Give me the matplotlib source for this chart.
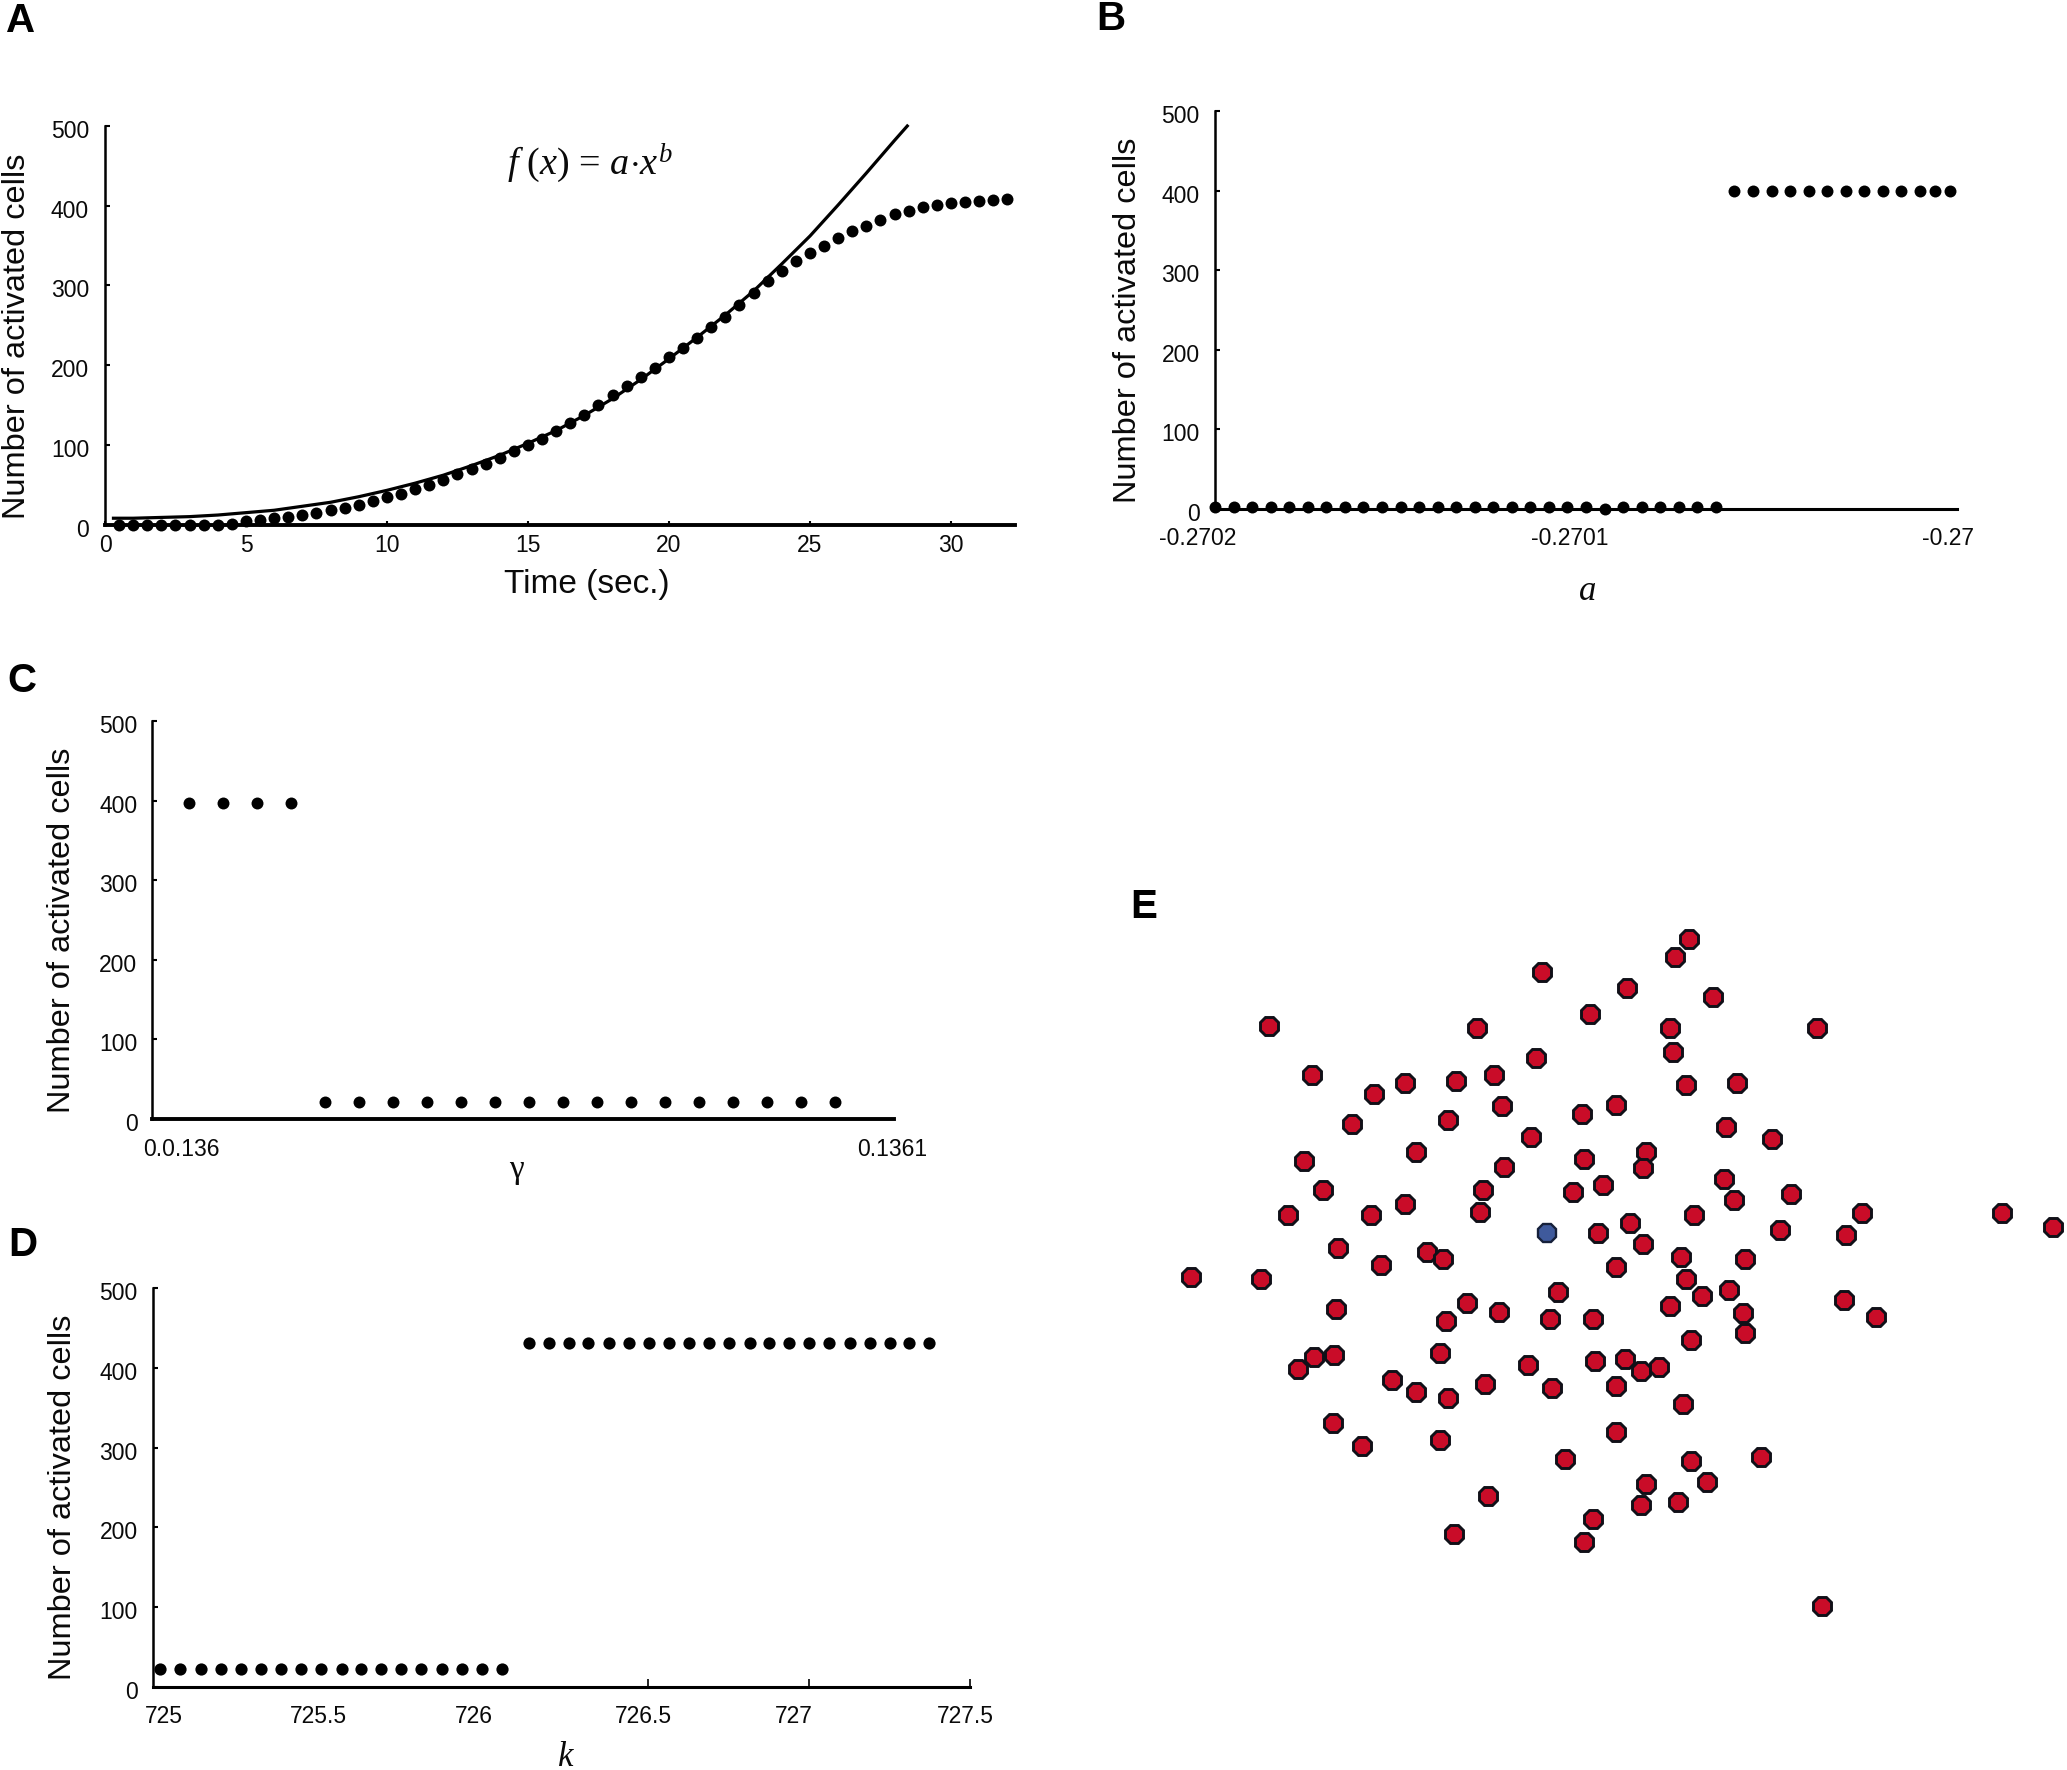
import matplotlib
matplotlib.use("Agg")
import matplotlib.pyplot as plt
from matplotlib.transforms import ScaledTranslation

plt.rcParams['font.family'] = ['Liberation Sans', 'DejaVu Sans']
plt.rcParams['mathtext.fontset'] = 'custom'
plt.rcParams['mathtext.rm'] = 'Liberation Serif'
plt.rcParams['mathtext.it'] = 'Liberation Serif:italic'

W, H = 2067, 1770

# Panel A
time_s = [0.5, 1, 1.5, 2, 2.5, 3, 3.5, 4, 4.5, 5, 5.5, 6, 6.5, 7, 7.5, 8, 8.5, 9, 9.5, 10,
          10.5, 11, 11.5, 12, 12.5, 13, 13.5, 14, 14.5, 15, 15.5, 16, 16.5, 17, 17.5, 18,
          18.5, 19, 19.5, 20, 20.5, 21, 21.5, 22, 22.5, 23, 23.5, 24, 24.5, 25, 25.5, 26,
          26.5, 27, 27.5, 28, 28.5, 29, 29.5, 30, 30.5, 31, 31.5, 32]
activated = [0, 0, 0, 0, 0, 0, 0, 0, 1, 4, 6, 8, 10, 12, 15, 18, 21, 25, 29, 34,
             39, 45, 50, 56, 63, 70, 76, 84, 92, 100, 108, 117, 128, 138, 150, 162,
             174, 185, 196, 210, 222, 234, 248, 261, 275, 290, 305, 318, 331, 341, 350, 359,
             368, 375, 382, 390, 394, 398, 401, 403, 405, 406, 407, 408]
fit_x = [0.3, 1, 2, 3, 4, 5, 6, 7, 8, 9, 10, 11, 12, 13, 14, 15, 16, 17, 18, 19, 20, 21, 22, 23, 24, 25, 26, 27, 28, 28.45]
fit_y = [8, 8, 9, 10, 12, 15, 18, 23, 28, 35, 43, 52, 62, 74, 87, 102, 118, 137, 158, 182, 208, 235, 263, 293, 327, 362, 401, 441, 482, 500]
a_xticks = [0, 5, 10, 15, 20, 25, 30]

# Panel B
a_low = [-0.2702, -0.270195, -0.27019, -0.270185, -0.27018, -0.270175, -0.27017, -0.270165,
         -0.27016, -0.270155, -0.27015, -0.270145, -0.27014, -0.270135, -0.27013, -0.270125,
         -0.27012, -0.270115, -0.27011, -0.270105, -0.2701, -0.270095, -0.27009, -0.270085,
         -0.27008, -0.270075, -0.27007, -0.270065]
n_low = [2, 2, 2, 2, 2, 2, 2, 2, 2, 2, 2, 2, 2, 2, 2, 2, 2, 2, 2, 2, 2, 0, 2, 2, 2, 2, 2, 2]
a_high = [-0.27006, -0.270055, -0.27005, -0.270045, -0.27004, -0.270035, -0.27003, -0.270025,
          -0.27002, -0.270015, -0.27001, -0.270006, -0.270002]
n_high = [400] * 13

# Panel C
gamma_high = [0.136, 0.136005, 0.13601, 0.136015]
n_gamma_high = [397, 397, 397, 397]
gamma_low = [0.13602, 0.136025, 0.13603, 0.136035, 0.13604, 0.136045, 0.13605, 0.136055,
             0.13606, 0.136065, 0.13607, 0.136075, 0.13608, 0.136085, 0.13609, 0.136095]
n_gamma_low = [21] * 16

# Panel D
k_low = [724.985, 725.046, 725.110, 725.172, 725.234, 725.298, 725.360, 725.422, 725.484,
         725.548, 725.609, 725.671, 725.733, 725.795, 725.859, 725.921, 725.985, 726.046]
n_k_low = [22] * 18
k_high = [726.129, 726.191, 726.253, 726.314, 726.378, 726.440, 726.502, 726.566, 726.628,
          726.690, 726.752, 726.815, 726.877, 726.939, 727.001, 727.063, 727.127, 727.189,
          727.251, 727.312, 727.374]
n_k_high = [431] * 21
k_ticks = [725, 725.5, 726, 726.5, 727, 727.5]
k_labels = ['725', '725.5', '726', '726.5', '727', '727.5']

# Panel E: cell positions
cells = [(940,126),(918,162),(698,193),(839,225),(980,244),(777,279),(249,303),(592,307),(909,307),
         (1152,307),(914,357),(689,370),(319,405),(619,405),(473,421),(557,417),(936,425),(1019,421),
         (421,444),(821,465),(632,468),(764,484),(544,496),(385,504),(1002,511),(680,531),(1077,535),
         (491,563),(870,562),(306,581),(768,577),(636,594),(865,595),(998,617),(337,641),(601,641),
         (799,630),(750,645),(1108,649),(1015,661),(473,669),(597,685),(280,692),(416,692),(949,692),
         (1226,688),(1456,688),(1540,716),(843,708),(790,728),(1090,723),(1200,732),(865,751),(363,760),
         (509,767),(535,783),(927,778),(1033,783),(433,795),(821,799),(121,819),(236,823),(936,824),
         (724,850),(962,858),(1006,846),(575,873),(909,878),(359,885),(627,890),(1196,866),(1029,893),
         (1248,901),(540,909),(711,905),(782,905),(1033,933),(944,949),(531,976),(355,980),(323,984),
         (297,1008),(676,1000),(786,992),(835,988),(861,1012),(892,1003),(452,1031),(605,1039),(821,1043),
         (715,1047),(491,1055),(544,1067),(931,1079),(354,1119),(531,1154),(821,1137),(402,1165),(737,1193),
         (944,1197),(1059,1189),(971,1240),(870,1244),(610,1268),(922,1280),(861,1288),(782,1316),(553,1347),
         (768,1362),(1160,1495)]
seed_cell = (706, 728)

y_ticks = [0, 100, 200, 300, 400, 500]
YLABEL = 'Number of activated cells'
INK = '#0a0a0a'

fig = plt.figure(figsize=(W / 100, H / 100), dpi=100, facecolor='white')


def px_text(x, y, s, **kw):
    kw.setdefault('color', INK)
    return fig.text(x / W, 1 - y / H, s, **kw)


def shift(label, dx, dy):
    label.set_transform(label.get_transform() + ScaledTranslation(dx / 100, -dy / 100, fig.dpi_scale_trans))


def panel(left, right, y0, y500, xlim, xlw, ylab_x, ylab_y, ypad):
    ax = fig.add_axes([left / W, 1 - y0 / H, (right - left) / W, (y0 - y500) / H])
    ax.set_xlim(*xlim)
    ax.set_ylim(0, 500)
    ax.spines['top'].set_visible(False)
    ax.spines['right'].set_visible(False)
    ax.spines['left'].set_linewidth(1.8)
    ax.spines['bottom'].set_linewidth(xlw)
    ax.set_yticks(y_ticks)
    ax.tick_params(axis='y', direction='in', length=3.6, width=1.5, pad=ypad,
                   labelsize=16.5, labelcolor=INK)
    for lab in ax.get_yticklabels():
        shift(lab, 0, 3)
    px_text(ylab_x, ylab_y, YLABEL, rotation=90, ha='center', va='center', fontsize=23.4)
    return ax


def dots(ax, x, y, ms=8.4):
    ax.plot(x, y, ls='none', marker='o', ms=ms, mfc='black', mec='black', mew=0, clip_on=False, zorder=4)


# A
axA = panel(105, 1015, 524.6, 126, (0, 32.27), 2.8, 17, 336, 11.5)
axA.plot(fit_x, fit_y, color='black', lw=2.3, clip_on=False, zorder=3, solid_joinstyle='round')
dots(axA, time_s, activated, 8.6)
axA.set_xticks(a_xticks)
axA.tick_params(axis='x', direction='in', length=3.2, width=1.5, pad=6.5, labelsize=16.5, labelcolor=INK)
px_text(587, 585, 'Time (sec.)', ha='center', va='center', fontsize=24)
px_text(590, 163, r'$f\ (x)$ = $a{\cdot}x^{b}$', ha='center', va='center', fontsize=27.5,
        family='Liberation Serif')

# B
axB = panel(1215, 1957, 508.7, 111.3, (-0.2702, -0.27), 2.2, 1128, 320, 11)
dots(axB, a_low, n_low, 8.6)
dots(axB, a_high, n_high, 8.6)
axB.set_xticks([-0.2702, -0.2701, -0.27])
axB.set_xticklabels(['-0.2702', '-0.2701', '-0.27'])
axB.tick_params(axis='x', length=0, pad=13.5, labelsize=16.5, labelcolor=INK)
for lab, dx in zip(axB.get_xticklabels(), (-17, -16, -9)):
    shift(lab, dx, 0)
px_text(1588, 592, 'a', ha='center', va='center', fontsize=25, style='italic', family='Liberation Serif')

# C
c_left = 0.136 - 5.47e-6
c_right = 0.136 + 1.0375e-4
axC = panel(152, 894, 1119, 721, (c_left, c_right), 2.8, 62, 930, 10.5)
dots(axC, gamma_high, n_gamma_high, 8.6)
dots(axC, gamma_low, n_gamma_low, 8.6)
axC.set_xticks([0.136, 0.1361])
axC.set_xticklabels(['0.0.136', '0.1361'])
axC.tick_params(axis='x', length=0, pad=13.5, labelsize=16.5, labelcolor=INK)
for lab, dx in zip(axC.get_xticklabels(), (-8, 24)):
    shift(lab, dx, 0)
px_text(516, 1170, '\u03b3', ha='center', va='center', fontsize=24, family='Liberation Serif')

# D
axD = panel(153, 970, 1687, 1288, (727.5 - 1231 / 485, 727.5), 2.2, 63, 1497, 11)
dots(axD, k_low, n_k_low, 8.8)
dots(axD, k_high, n_k_high, 8.8)
axD.set_xticks(k_ticks)
axD.set_xticklabels(k_labels)
axD.tick_params(axis='x', direction='in', length=5.8, width=1.2, pad=13, labelsize=16.5, labelcolor=INK)
for i, t in enumerate(axD.xaxis.get_major_ticks()):
    if i < 3:
        t.tick1line.set_visible(False)
for lab, dx in zip(axD.get_xticklabels(), (-1, -8, -13, -5, -15, -5)):
    shift(lab, dx, 0)
px_text(566, 1757, 'k', ha='center', va='center', fontsize=25, style='italic', family='Liberation Serif')

# E
axE = fig.add_axes([1118 / W, 1 - 1638 / H, 947 / W, 760 / H])
axE.set_xlim(0, 1560)
axE.set_ylim(1560, 0)
axE.axis('off')
axE.plot([c[0] for c in cells], [c[1] for c in cells], ls='none', marker='8', ms=13.6,
         mfc='#c90c28', mec='#101018', mew=2.1, clip_on=False)
axE.plot([seed_cell[0]], [seed_cell[1]], ls='none', marker='8', ms=13.6,
         mfc='#3f5a9c', mec='#16203a', mew=1.7, clip_on=False)

# Panel letters
for letter, x, y in (('A', 6, 32), ('B', 1096, 30), ('C', 7, 692), ('D', 8, 1256), ('E', 1130, 918)):
    px_text(x, y, letter, ha='left', va='baseline', fontsize=29, fontweight='bold', color='black')

fig.savefig('out.png', dpi=100, facecolor='white')
